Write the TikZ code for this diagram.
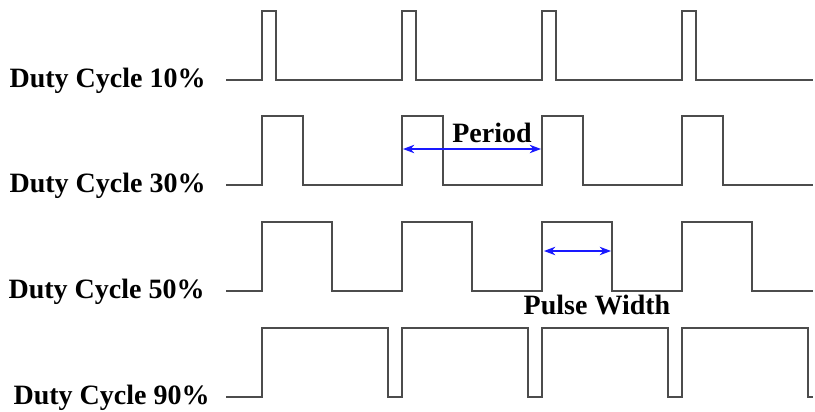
\documentclass[tikz,border=0pt]{standalone}
\usepackage{fontspec}
\setmainfont{Liberation Serif}
\usetikzlibrary{arrows.meta}
\definecolor{wave-gray}{rgb}{0.3, 0.3, 0.3}
\definecolor{arr-blue}{rgb}{0.1, 0.1, 1}

\begin{document}
\begin{tikzpicture}[x=0.5pt, y=-0.5pt]
	\tikzset{wave/.style={draw=wave-gray, line width=1pt}}
	\tikzset{lbl/.style={font=\fontsize{14}{16}\selectfont\bfseries, inner sep=0pt}}
	\tikzset{arr/.style={{Stealth[scale=1]}-{Stealth[scale=1]}, draw=arr-blue, line width=0.6pt}}
	\useasboundingbox (0,0) rectangle (815,412);
	
	% one row per duty cycle: low level / pulse width / label / label end
	\foreach \lo/\w/\dc/\le [count=\r] in {80/14/10/206, 185/41/30/206, 291/70/50/205, 397/126/90/210}{
		\draw[wave] (226,\lo) 
		foreach \k in {0,...,3}{
			-- ({262+140*\k},\lo) 
			-- ++(0,-69) 
			-- ++(\w,0) 
			-- ++(0,69)
		} -- (813,\lo);
		\node[lbl, anchor=base east] (duty\r) at (\le,\lo+7) {Duty Cycle \dc\%};
	}
	
	\coordinate (per-a) at (403,149);
	\coordinate (per-b) at (541,149);
	\draw[arr] (per-a) -- (per-b);
	\node[lbl] (period) at (492,133) {Period};
	
	\coordinate (pw-a) at (544,251);
	\coordinate (pw-b) at (611,251);
	\draw[arr] (pw-a) -- (pw-b);
	\node[lbl] (pulse) at (597,305) {Pulse Width};
\end{tikzpicture}
\end{document}
